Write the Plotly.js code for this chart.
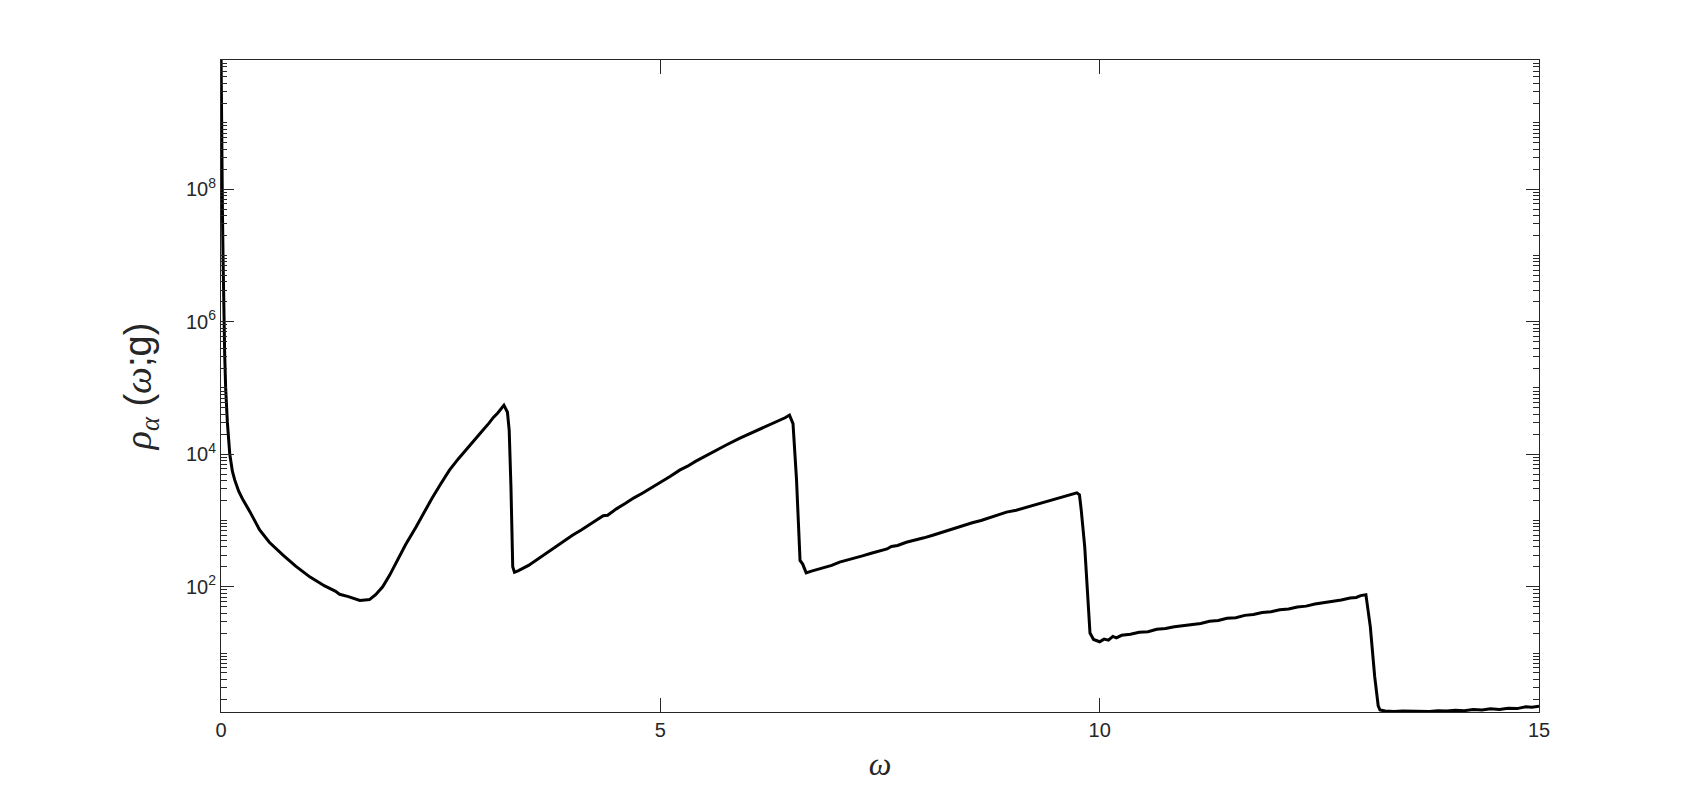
<!DOCTYPE html>
<html>
<head>
<meta charset="utf-8">
<script src="https://cdn.plot.ly/plotly-3.0.1.min.js"></script>
<style>html,body{margin:0;padding:0;background:#fff;}#plot{width:1700px;height:800px;}</style>
</head>
<body>
<div id="plot"></div>
<script>
// omega (x) values
const omega = [
  0.001, 0.004, 0.007, 0.011, 0.016, 0.023, 0.031, 0.042, 0.053, 0.072,
  0.10, 0.13, 0.156, 0.20, 0.25, 0.33, 0.44, 0.55, 0.706, 0.85,
  1.01, 1.18, 1.30, 1.35, 1.45, 1.52, 1.58, 1.64, 1.69, 1.76,
  1.84, 1.92, 2.00, 2.10, 2.22, 2.30, 2.40, 2.50, 2.60, 2.70,
  2.80, 2.90, 2.98, 3.05, 3.10, 3.15, 3.22, 3.26, 3.28, 3.30,
  3.31, 3.32, 3.34, 3.38, 3.50, 3.62, 3.74, 3.87, 4.00, 4.10,
  4.20, 4.30, 4.35, 4.40, 4.50, 4.60, 4.70, 4.80, 4.90, 5.00,
  5.11, 5.22, 5.31, 5.40, 5.50, 5.60, 5.75, 5.90, 6.00, 6.10,
  6.23, 6.36, 6.42, 6.47, 6.51, 6.55, 6.59, 6.62, 6.66, 6.72,
  6.80, 6.88, 6.95, 7.04, 7.12, 7.20, 7.30, 7.40, 7.50, 7.58,
  7.63, 7.70, 7.80, 7.90, 8.00, 8.10, 8.20, 8.30, 8.37, 8.45,
  8.55, 8.65, 8.75, 8.85, 8.94, 9.05, 9.15, 9.25, 9.35, 9.45,
  9.55, 9.65, 9.70, 9.74, 9.77, 9.79, 9.83, 9.85, 9.87, 9.89,
  9.93, 10.00, 10.05, 10.10, 10.15, 10.19, 10.25, 10.35, 10.45, 10.55,
  10.65, 10.75, 10.85, 10.95, 11.05, 11.15, 11.25, 11.35, 11.45, 11.55,
  11.65, 11.75, 11.85, 11.95, 12.05, 12.15, 12.25, 12.35, 12.45, 12.55,
  12.65, 12.75, 12.85, 12.92, 12.97, 13.03, 13.08, 13.13, 13.17, 13.19,
  13.25, 13.35, 13.45, 13.55, 13.65, 13.75, 13.85, 13.95, 14.05, 14.15,
  14.25, 14.35, 14.45, 14.55, 14.65, 14.75, 14.85, 14.92, 15.00
];
// rho_alpha(omega; g) values
const rho = [
  9.5e9, 1.6e9, 8e8, 3.2e8, 5e7, 1e7, 1.5e6, 3.2e5, 1e5, 3.1e4,
  1e4, 5.5e3, 4.1e3, 2.8e3, 2.05e3, 1.35e3, 7.2e2, 4.7e2, 3.0e2, 2.05e2,
  1.41e2, 1.03e2, 8.6e1, 7.7e1, 7.1e1, 6.6e1, 6.2e1, 6.3e1, 6.4e1, 7.6e1,
  1.0e2, 1.5e2, 2.4e2, 4.3e2, 8.0e2, 1.25e3, 2.15e3, 3.55e3, 5.75e3, 8.5e3,
  1.23e4, 1.74e4, 2.3e4, 2.95e4, 3.6e4, 4.2e4, 5.5e4, 4.3e4, 2.3e4, 3.2e3,
  1.0e3, 2.0e2, 1.66e2, 1.74e2, 2.1e2, 2.7e2, 3.5e2, 4.6e2, 6.0e2, 7.2e2,
  8.8e2, 1.05e3, 1.18e3, 1.2e3, 1.5e3, 1.8e3, 2.2e3, 2.6e3, 3.1e3, 3.7e3,
  4.6e3, 5.75e3, 6.6e3, 7.8e3, 9.2e3, 1.1e4, 1.38e4, 1.74e4, 2.0e4, 2.3e4,
  2.75e4, 3.24e4, 3.55e4, 3.9e4, 2.9e4, 4.1e3, 2.5e2, 2.2e2, 1.62e2, 172,
  183, 196, 210, 236, 250, 268, 292, 320, 352, 372,
  405, 420, 470, 505, 548, 600, 660, 740, 795, 850,
  925, 1000, 1110, 1220, 1340, 1430, 1560, 1690, 1850, 2020,
  2180, 2380, 2520, 2620, 2450, 1450, 400, 140, 63, 20,
  16, 14.8, 16.2, 15.6, 17.8, 16.9, 18.5, 19.2, 20.6, 21.0,
  22.8, 23.4, 24.9, 26.0, 27.4, 28.0, 30.2, 31.0, 33.5, 34.2,
  37.0, 38.1, 40.8, 42.0, 45.0, 46.3, 49.5, 51.0, 54.8, 57.0,
  60.5, 63.0, 67.5, 69.0, 73.5, 76.0, 25, 4.4, 1.6, 1.38,
  1.33, 1.31, 1.33, 1.32, 1.33, 1.31, 1.34, 1.33, 1.37, 1.35,
  1.40, 1.38, 1.44, 1.41, 1.47, 1.45, 1.55, 1.52, 1.57
];
// tick values and labels
const xTickVals = [0, 5, 10, 15];
const xTickText = ['0', '5', '10', '15'];
const yTickVals = [1e2, 1e4, 1e6, 1e8];
const yTickText = ['10<sup>2</sup>', '10<sup>4</sup>', '10<sup>6</sup>', '10<sup>8</sup>'];
const yMinorVals = [];
for (let d = 0; d <= 9; d++) {
  for (let k = 1; k <= 9; k++) {
    const v = k * Math.pow(10, d);
    if (!(k === 1 && d % 2 === 0)) yMinorVals.push(v);
  }
}

const axisColor = '#262626';
const serifIt = 'font-family:Liberation Serif, DejaVu Serif, serif;font-style:italic';

const trace = {
  x: omega, y: rho, type: 'scatter', mode: 'lines',
  line: {color: '#000000', width: 3},
  hoverinfo: 'skip'
};

const layout = {
  width: 1700, height: 800,
  paper_bgcolor: '#ffffff', plot_bgcolor: '#ffffff',
  font: {family: 'Liberation Sans, Arial, sans-serif', size: 20, color: axisColor},
  margin: {l: 221, r: 161, t: 60, b: 88},
  showlegend: false,
  xaxis: {
    range: [0, 15], tickmode: 'array', tickvals: xTickVals, ticktext: xTickText,
    ticks: 'inside', ticklen: 14, tickwidth: 1, tickcolor: axisColor,
    showline: true, linecolor: axisColor, linewidth: 1, mirror: 'allticks',
    showgrid: false, zeroline: false,
    tickfont: {family: 'Liberation Sans, Arial, sans-serif', size: 20, color: axisColor},
    title: {text: '<span style="' + serifIt + '">ω</span>', font: {size: 32, color: axisColor, family: 'Liberation Serif, serif'}, standoff: 12}
  },
  yaxis: {
    type: 'log', range: [0.11, 9.95],
    tickmode: 'array', tickvals: yTickVals, ticktext: yTickText,
    ticks: 'inside', ticklen: 13, tickwidth: 1, tickcolor: axisColor,
    minor: {tickmode: 'array', tickvals: yMinorVals, ticks: 'inside', ticklen: 6, tickwidth: 1, tickcolor: axisColor, showgrid: false},
    showline: true, linecolor: axisColor, linewidth: 1, mirror: 'allticks',
    showgrid: false, zeroline: false,
    tickfont: {family: 'Liberation Sans, Arial, sans-serif', size: 20, color: axisColor},
    title: {
      text: '<span style="' + serifIt + '">ρ</span><sub><span style="' + serifIt + '">α</span></sub> (<span style="' + serifIt + '">ω</span>;g)',
      font: {size: 38, color: axisColor, family: 'Liberation Sans, Arial, sans-serif'},
      standoff: 22
    }
  }
};

Plotly.newPlot('plot', [trace], layout, {displayModeBar: false, staticPlot: true});
</script>
</body>
</html>
